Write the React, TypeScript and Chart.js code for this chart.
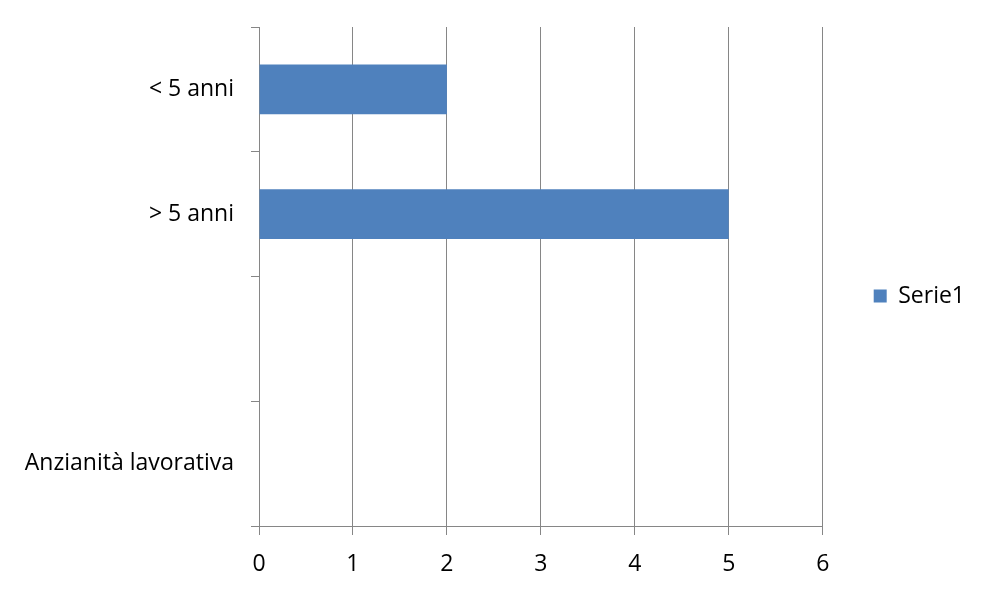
import React, { useEffect, useRef } from "react";
import { Chart, registerables } from "chart.js";

Chart.register(...registerables);

const categories: string[] = ["< 5 anni", "> 5 anni", "", "Anzianità lavorativa"];
const serie1Values: (number | null)[] = [2, 5, null, null];
const seriesLabel = "Serie1";
const xMin = 0;
const xMax = 6;
const xStep = 1;

const FONT = "'Open Sans'";
const FONT_SIZE = 23;
const GRID = "#868686";
const BAR = "#4F81BD";

export default function App() {
  const ref = useRef<HTMLCanvasElement | null>(null);

  useEffect(() => {
    if (!ref.current) return;
    const chart = new Chart(ref.current, {
      type: "bar",
      data: {
        labels: categories,
        datasets: [
          {
            label: seriesLabel,
            data: serie1Values,
            backgroundColor: BAR,
            borderWidth: 0,
            barPercentage: 0.4,
            categoryPercentage: 1,
          },
        ],
      },
      options: {
        indexAxis: "y",
        animation: false,
        responsive: false,
        maintainAspectRatio: false,
        layout: { padding: { left: 0, top: 0, bottom: 0, right: 10 } },
        plugins: {
          tooltip: { enabled: false },
          legend: {
            position: "right",
            labels: {
              boxWidth: 13,
              boxHeight: 13,
              padding: 10,
              color: "#000",
              font: { family: FONT, size: FONT_SIZE },
            },
          },
        },
        scales: {
          x: {
            type: "linear",
            position: "bottom",
            min: xMin,
            max: xMax,
            ticks: {
              stepSize: xStep,
              color: "#000",
              padding: 16,
              font: { family: FONT, size: FONT_SIZE },
            },
            grid: {
              color: GRID,
              lineWidth: 1,
              tickLength: 9,
              drawOnChartArea: true,
            },
            border: { color: GRID, width: 1 },
            afterFit: (s: any) => {
              s.height = 66;
            },
          },
          y: {
            type: "category",
            position: "left",
            offset: true,
            ticks: {
              color: "#000",
              padding: 17,
              font: { family: FONT, size: FONT_SIZE },
            },
            grid: {
              offset: true,
              color: GRID,
              lineWidth: 1,
              tickLength: 8,
              drawOnChartArea: false,
            },
            border: { color: GRID, width: 1 },
            afterFit: (s: any) => {
              s.width = 259;
              s.paddingTop = 0;
              s.paddingBottom = 0;
            },
          },
          x2: {
            type: "linear",
            position: "top",
            display: true,
            ticks: { display: false },
            grid: { display: false },
            border: { display: false },
            afterFit: (s: any) => {
              s.height = 27;
            },
          },
          y2: {
            type: "linear",
            position: "right",
            display: true,
            ticks: { display: false },
            grid: { display: false },
            border: { display: false },
            afterFit: (s: any) => {
              s.width = 41;
            },
          },
        },
      },
    });
    return () => chart.destroy();
  }, []);

  return (
    <div style={{ position: "fixed", left: 0, top: 0, width: 985, height: 592, background: "#fff" }}>
      <canvas ref={ref} width={985} height={592} style={{ width: 985, height: 592 }} />
    </div>
  );
}
